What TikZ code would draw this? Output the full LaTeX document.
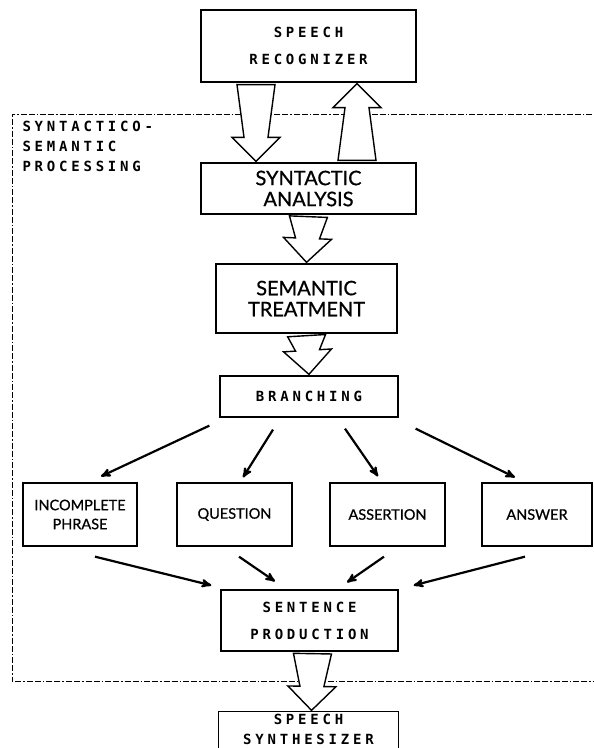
\documentclass[tikz,border=0pt]{standalone}
\usepackage{fontspec}
\newfontfamily\boxfont[FakeBold=0.7]{Lato}
\newfontfamily\printfont[LetterSpace=27]{DejaVu Sans Mono}
\usetikzlibrary{calc,arrows}

% fat open arrow between two anchors, shifted sideways by #3
\newcommand{\hollowarrow}[3]{%
  \path ($(#1)+(#3,0)$) coordinate (ha) ($(#2)+(#3,0)$) coordinate (hb);
  \path ($(ha)!2pt!(hb)$) coordinate (hs) ($(hb)!1pt!(ha)$) coordinate (ht)
        ($(ht)!24pt!(hs)$) coordinate (hh);
  \draw[hollow] ($(hs)!19pt!90:(ht)$) -- ($(hh)!12pt!90:(ht)$) -- ($(hh)!24pt!90:(ht)$)
     -- (ht) -- ($(hh)!24pt!-90:(ht)$) -- ($(hh)!12pt!-90:(ht)$) -- ($(hs)!19pt!-90:(ht)$) -- cycle;
}

\begin{document}
\begin{tikzpicture}[x=1pt,y=-1pt,>=stealth',
    box/.style={draw,line width=1.3pt,inner sep=0pt,align=center},
    print box/.style={box,font=\printfont\bfseries\fontsize{14}{27}\selectfont},
    text box/.style={box,font=\boxfont\fontsize{20}{21}\selectfont},
    small box/.style={box,font=\boxfont\fontsize{14.5}{19}\selectfont,minimum height=63pt},
    hollow/.style={fill=white,line width=1.4pt,line join=miter},
    branch arrow/.style={->,line width=2.2pt},
    frame/.style={line width=0.9pt,dash pattern=on 6pt off 2pt on 6pt off 2pt on 1.5pt off 2pt}
  ]
  \useasboundingbox (0,0) rectangle (594,748);

  % dash-dotted frame round the processing part
  \draw[frame] (600,114) -- (12,114) -- (12,681) -- (600,681);
  \node[anchor=north west,align=left,font=\printfont\bfseries\fontsize{14}{20}\selectfont] (proc) at (19,118)
    {SYNTACTICO-\\SEMANTIC\\PROCESSING};

  \node[print box,minimum width=215pt,minimum height=72pt] (recog) at (308.5,46) {SPEECH\\RECOGNIZER};
  \node[text box,minimum width=215pt,minimum height=51pt] (synt) at (308.5,188.5) {SYNTACTIC\\ANALYSIS};
  \node[text box,minimum width=181pt,minimum height=69pt] (sem) at (306.5,298.5) {SEMANTIC\\TREATMENT};
  \node[print box,minimum width=178pt,minimum height=41pt] (branch) at (309,396.5) {BRANCHING};

  \node[small box,minimum width=114pt] (incomplete) at (80,514.5) {INCOMPLETE\\PHRASE};
  \node[small box,minimum width=115pt] (question) at (234.5,514.5) {QUESTION};
  \node[small box,minimum width=115pt] (assertion) at (387.5,514.5) {ASSERTION};
  \node[small box,minimum width=110pt] (answer) at (537,514.5) {ANSWER};

  \node[print box,minimum width=177pt,minimum height=61pt] (sentence) at (309.5,620.5) {SENTENCE\\PRODUCTION};
  % last box runs off the bottom of the page
  \node[print box,draw=none,minimum width=179pt,minimum height=34pt,font=\printfont\bfseries\fontsize{14}{20}\selectfont] (synth) at (308.5,729) {SPEECH\\SYNTHESIZER};
  \draw[line width=1.3pt] (synth.north west) rectangle ([yshift=-14pt]synth.south east);

  \hollowarrow{recog.south}{synt.north}{-52.5}
  \hollowarrow{synt.north}{recog.south}{48.5}
  \hollowarrow{synt.south}{sem.north}{0}
  \hollowarrow{sem.south}{branch.north}{0}
  \hollowarrow{sentence.south}{synth.north}{3}

  \path[branch arrow]
    ([xshift=-10pt,yshift=-8pt]branch.south west) edge ([xshift=21pt,yshift=6pt]incomplete.north)
    ([xshift=-36pt,yshift=-12pt]branch.south) edge ([xshift=8.5pt,yshift=5pt]question.north)
    ([xshift=36pt,yshift=-11pt]branch.south) edge ([xshift=-9.5pt,yshift=6pt]assertion.north)
    ([xshift=17pt,yshift=-11pt]branch.south east) edge ([xshift=-22pt,yshift=5pt]answer.north);
  \path[branch arrow]
    ([xshift=15pt,yshift=-10pt]incomplete.south) edge ([xshift=-9pt,yshift=4pt]sentence.north west)
    ([xshift=4.5pt,yshift=-10pt]question.south) edge ([xshift=-34.5pt,yshift=8pt]sentence.north)
    ([xshift=-3.5pt,yshift=-10pt]assertion.south) edge ([xshift=37.5pt,yshift=7pt]sentence.north)
    ([xshift=-12pt,yshift=-10pt]answer.south) edge ([xshift=15pt,yshift=4pt]sentence.north east);
\end{tikzpicture}
\end{document}
